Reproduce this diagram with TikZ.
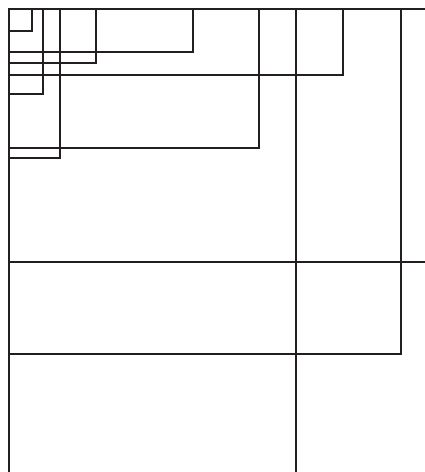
\documentclass[tikz,border=0pt]{standalone}
\definecolor{frameink}{RGB}{35,31,32}
\begin{document}
\begin{tikzpicture}[x=1pt, y=-1pt, line width=1.4pt, color=frameink]

	\useasboundingbox (0,0) rectangle (425,472);

	% Outer lines, cut off at the edge
	\draw (425,9) -- (9,9) -- (9,472);
	\draw (9,262) -- (425,262);
	\draw (296,9) -- (296,472);

	% Nested rectangles sharing the top left corner
	\foreach \w/\h in {32/31, 43/94, 60/158, 96/63, 193/52, 259/148, 343/75, 401/354}
		\draw (9,9) rectangle (\w,\h);

\end{tikzpicture}
\end{document}
